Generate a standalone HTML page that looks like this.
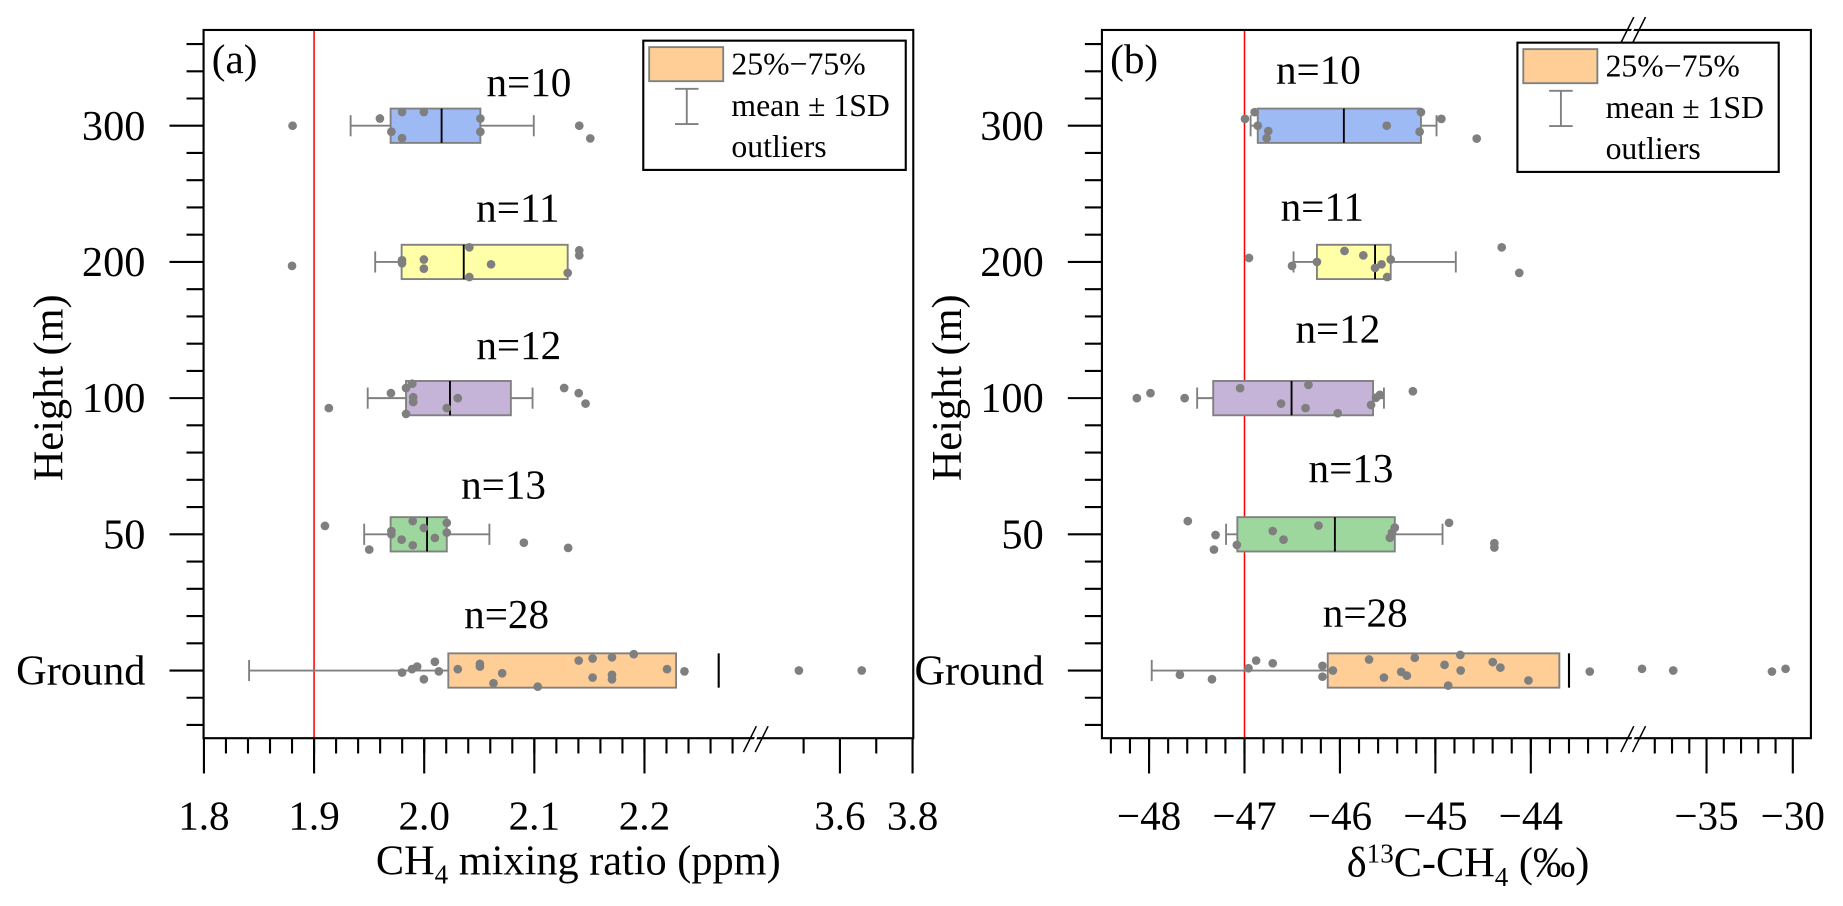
<!DOCTYPE html>
<html><head><meta charset="utf-8"><style>
html,body{margin:0;padding:0;background:#fff;}
svg{display:block;font-family:"Liberation Serif",serif;}
</style></head><body>
<svg id="chart" width="1843" height="906" viewBox="0 0 1568 771" preserveAspectRatio="none" xmlns="http://www.w3.org/2000/svg">
<rect width="1568" height="771" fill="#fff"/>
</svg>
<script>
// ---------- data ----------
const categories = ['300','200','100','50','Ground'];
const countLabels = ['n=10','n=11','n=12','n=13','n=28'];
const boxColors = ['#9dbaf5','#ffffa8','#c5b3d8','#9ed79e','#fece96'];

// panel a: CH4 mixing ratio (ppm)
const q1A = [1.9695,1.9795,1.9835,1.9695,2.0219];
const q3A = [2.051,2.1303,2.0787,2.0205,2.2287];
const medA = [2.0158,2.0359,2.0234,2.0026,null];
const wLoA = [1.9332,1.9555,1.9487,1.9455,1.841];
const wHiA = [2.0995,2.1163,2.0984,2.0592,null];
const markA = [null,null,null,null,2.2674];
const ptsA300 = [1.9598,1.9799,1.9997,1.9702,1.9799,2.051,2.051,1.8805,2.1408,2.1508];
const jitA300 = [-0.42,-0.8,-0.8,0.35,0.72,-0.42,0.35,0,0,0.74];
const ptsA200 = [1.88,1.9799,1.9799,1.9997,1.9997,2.041,2.041,2.0607,2.1408,2.1408,2.1303];
const jitA200 = [0.23,-0.1,0.08,-0.14,0.39,-0.85,0.88,0.14,-0.68,-0.38,0.64];
const ptsA100 = [1.9134,1.9698,1.9835,1.9892,1.99,1.99,1.9835,2.0305,2.0205,2.1271,2.1403,2.1465];
const jitA100 = [0.58,-0.29,-0.59,-0.84,-0.05,0.23,0.92,0,0.58,-0.59,-0.29,0.32];
const ptsA50 = [1.9099,1.9896,1.9702,1.9702,1.9795,1.9896,1.9997,2.0205,2.0205,2.0097,1.9501,2.0905,2.1307];
const jitA50 = [-0.49,-0.77,-0.19,0,0.31,0.64,-0.37,-0.67,-0.1,0.21,0.89,0.49,0.79];
const ptsAG = [1.9799,1.9889,1.9936,2.0097,2.0133,1.9997,2.0305,2.0506,2.0506,2.0708,2.0629,2.1031,2.1403,2.1529,2.1529,2.1705,2.1705,2.1705,2.1903,2.2205,2.2363,3.487,3.66];
const jitAG = [0.12,-0.08,-0.23,-0.51,0.05,0.51,-0.08,-0.39,-0.23,0.16,0.74,0.94,-0.58,-0.7,0.41,-0.77,0.25,0.51,-0.95,-0.08,0.05,0,0];
const ticksA = ['1.8','1.9','2.0','2.1','2.2','3.6','3.8'];
const refA = 1.9;

// panel b: delta13C-CH4 (permil)
const q1B = [-46.861,-46.241,-47.328,-47.075,-46.128];
const q3B = [-45.151,-45.468,-45.653,-45.425,-43.701];
const medB = [-45.959,-45.632,-46.507,-46.053,null];
const wLoB = [-46.936,-46.486,-47.496,-47.193,-47.972];
const wHiB = [-44.988,-44.786,-45.539,-44.925,null];
const markB = [null,null,null,null,-43.6];
const ptsB300 = [-46.995,-46.894,-46.861,-46.751,-46.768,-45.510,-45.151,-45.165,-44.937,-44.567];
const jitB300 = [-0.4,-0.79,0,0.31,0.72,0,-0.79,0.35,-0.4,0.75];
const ptsB200 = [-46.953,-46.502,-46.241,-45.952,-45.755,-45.632,-45.564,-45.468,-45.505,-44.305,-44.121];
const jitB200 = [-0.23,0.23,0,-0.64,-0.38,0.35,0.14,-0.14,0.88,-0.85,0.64];
const ptsB100 = [-48.128,-47.985,-47.627,-47.046,-46.617,-46.330,-46.360,-46.023,-45.674,-45.623,-45.581,-45.236];
const jitB100 = [0,-0.29,0,-0.58,0.32,-0.77,0.58,0.88,0.4,-0.02,-0.19,-0.4];
const ptsB50 = [-47.594,-47.303,-47.320,-47.080,-46.704,-46.591,-46.225,-45.425,-45.454,-45.477,-44.857,-44.382,-44.382];
const jitB50 = [-0.77,0.04,0.89,0.62,-0.19,0.31,-0.51,-0.39,-0.1,0.2,-0.67,0.52,0.77];
const ptsBG = [-47.677,-47.341,-46.958,-46.878,-46.704,-46.183,-46.183,-46.074,-45.695,-45.539,-45.358,-45.299,-45.216,-44.904,-44.739,-44.735,-44.866,-44.399,-44.319,-44.025,-43.382,-38.74,-36.93,-31.21,-30.42];
const jitBG = [0.25,0.51,-0.13,-0.58,-0.42,-0.27,0.36,0,-0.64,0.41,0.08,0.3,-0.74,-0.33,-0.91,0,0.88,-0.49,-0.17,0.58,0.06,-0.1,0,0.06,-0.1];
const ticksB = ['−48','−47','−46','−45','−44','−35','−30'];
const refB = -47;

// ---------- helpers ----------
const NS='http://www.w3.org/2000/svg';
const svg=document.getElementById('chart');
function mk(tag,attrs,parent){const e=document.createElementNS(NS,tag);for(const k in attrs)e.setAttribute(k,attrs[k]);(parent||svg).appendChild(e);return e;}
const TOP=25.5, BOT=628.2, HALF=14.6;
function yCat(i){return 107+i*115.9;}
function xA(v){return v<=2.3?173.5+(v-1.8)*937:714.6+(v-3.6)*309;}
function xB(v){return v<=-40?1058.8+(v+47)*81.2:1451.9+(v+35)*14.68;}
function num(s){return parseFloat(s.replace('−','-'));}

function panel(o){
  const g=mk('g',{});
  
  
  const X=o.x;
  const rl=mk('line',{x1:X(o.ref),x2:X(o.ref),y1:TOP,y2:BOT,stroke:'#ff0000','stroke-width':1.3},g);
  
  
  for(let i=0;i<5;i++){
    const bg=mk('g',{},g);
    
    
    const y=yCat(i);
    const hiEnd=o.wHi[i]!==null?o.wHi[i]:o.q1[i];
    const wl=mk('line',{x1:X(o.wLo[i]),x2:X(hiEnd),y1:y,y2:y,stroke:'#808080','stroke-width':1.6},bg);
    
    
    const c1=mk('line',{x1:X(o.wLo[i]),x2:X(o.wLo[i]),y1:y-9,y2:y+9,stroke:'#808080','stroke-width':1.6},bg);
    
    
    if(o.wHi[i]!==null){
      const c2=mk('line',{x1:X(o.wHi[i]),x2:X(o.wHi[i]),y1:y-9,y2:y+9,stroke:'#808080','stroke-width':1.6},bg);
      
      
    }
    const r=mk('rect',{x:X(o.q1[i]),y:y-HALF,width:X(o.q3[i])-X(o.q1[i]),height:HALF*2,fill:boxColors[i],stroke:'#808080','stroke-width':1.6},bg);
    
    
    if(o.med[i]!==null){
      const m=mk('line',{x1:X(o.med[i]),x2:X(o.med[i]),y1:y-HALF,y2:y+HALF,stroke:'#000','stroke-width':1.6},bg);
      
      
    }
    if(o.mark[i]!==null){
      const m=mk('line',{x1:X(o.mark[i]),x2:X(o.mark[i]),y1:y-HALF,y2:y+HALF,stroke:'#000','stroke-width':1.8},bg);
      
      
    }
    const pts=o.pts[i], jit=o.jit[i];
    for(let k=0;k<pts.length;k++){
      const c=mk('circle',{cx:X(pts[k]),cy:y+jit[k]*HALF,r:3.7,fill:'#7f7f7f'},bg);
      
      
    }
    const t=mk('text',{x:o.nx[i],y:o.ny[i],'font-size':35,'text-anchor':'middle',fill:'#000'},bg);
    t.textContent=countLabels[i];
    
    
  }
  const fr=mk('rect',{x:o.L,y:TOP,width:o.R-o.L,height:BOT-TOP,fill:'none',stroke:'#000','stroke-width':1.8},g);
  
  
  for(let j=-3;j<=22;j++){
    const y=107+j*23.18;
    if(y<TOP+3||y>BOT-3)continue;
    const major=(j%5===0);
    mk('line',{x1:o.L-(major?29:14.5),x2:o.L,y1:y,y2:y,stroke:'#000','stroke-width':1.8},g);
  }
  for(let i=0;i<5;i++){
    const t=mk('text',{x:o.L-49.5,y:yCat(i)+12,'font-size':36,'text-anchor':'end'},g);
    t.textContent=categories[i];
    
    
  }
  const yt=mk('text',{x:0,y:0,'font-size':36,'text-anchor':'middle',transform:'translate('+(o.L-120)+',330) rotate(-90)'},g);
  yt.textContent='Height (m)';
  
  
  o.minor.forEach(v=>{mk('line',{x1:X(v),x2:X(v),y1:BOT,y2:BOT+13,stroke:'#000','stroke-width':1.8},g);});
  o.tickLabels.forEach(s=>{
    const v=num(s);
    mk('line',{x1:X(v),x2:X(v),y1:BOT,y2:BOT+30,stroke:'#000','stroke-width':1.8},g);
    const t=mk('text',{x:X(v),y:706,'font-size':35,'text-anchor':'middle'},g);
    t.textContent=s;
    
    
  });
  o.breaks.forEach(b=>{
    mk('polygon',{points:(b.x-11)+','+(b.y+11)+' '+(b.x-1)+','+(b.y-11)+' '+(b.x+1)+','+(b.y-11)+' '+(b.x-9)+','+(b.y+11),fill:'#fff',stroke:'none'},g);
    const b1=mk('line',{x1:b.x-15,y1:b.y+11,x2:b.x-4,y2:b.y-11,stroke:'#000','stroke-width':1.3},g);
    
    
    mk('line',{x1:b.x-5,y1:b.y+11,x2:b.x+6,y2:b.y-11,stroke:'#000','stroke-width':1.3},g);
  });
  const pl=mk('text',{x:o.L+7,y:62,'font-size':35},g);
  pl.textContent=o.letter;
  
  
  const lg=mk('g',{},g);
  
  
  const lx=o.legX, ly=o.legY;
  mk('rect',{x:lx,y:ly,width:o.legW,height:110,fill:'#fff',stroke:'#000','stroke-width':1.8},lg);
  const sw=mk('rect',{x:lx+5,y:ly+5.5,width:63,height:29,fill:'#fece96',stroke:'#808080','stroke-width':1.6},lg);
  
  
  const ex=lx+37;
  mk('line',{x1:ex,x2:ex,y1:ly+41,y2:ly+71,stroke:'#808080','stroke-width':1.6},lg);
  mk('line',{x1:ex-10,x2:ex+10,y1:ly+41,y2:ly+41,stroke:'#808080','stroke-width':1.6},lg);
  mk('line',{x1:ex-10,x2:ex+10,y1:ly+71,y2:ly+71,stroke:'#808080','stroke-width':1.6},lg);
  ['25%−75%','mean ± 1SD','outliers'].forEach((s,k)=>{
    const t=mk('text',{x:lx+o.legTx,y:ly+29+k*35,'font-size':27},lg);
    t.textContent=s;
    
    
  });
}

function rng(a,b,s){const r=[];for(let v=a;v<=b+1e-9;v+=s)r.push(+v.toFixed(4));return r;}

panel({name:'panel-a',letter:'(a)',x:xA,L:173.2,R:777,ref:refA,
  q1:q1A,q3:q3A,med:medA,wLo:wLoA,wHi:wHiA,mark:markA,
  pts:[ptsA300,ptsA200,ptsA100,ptsA50,ptsAG],jit:[jitA300,jitA200,jitA100,jitA50,jitAG],
  nx:[450,440.6,441.4,428.4,431],ny:[81.7,188.6,305.7,424.2,534.6],
  minor:rng(1.82,2.28,0.02).concat([3.5,3.7]),tickLabels:ticksA,
  breaks:[{x:647.5,y:629}],legX:547.3,legY:34.6,legW:223.3,legTx:75});

panel({name:'panel-b',letter:'(b)',x:xB,L:937.5,R:1540.7,ref:refB,
  q1:q1B,q3:q3B,med:medB,wLo:wLoB,wHi:wHiB,mark:markB,
  pts:[ptsB300,ptsB200,ptsB100,ptsB50,ptsBG],jit:[jitB300,jitB200,jitB100,jitB50,jitBG],
  nx:[1121.7,1125,1138.3,1149.4,1161.5],ny:[70.9,187.7,291.5,410.1,533.2],
  minor:rng(-48.4,-43.2,0.2).concat([-38,-37,-36,-34,-33,-32,-31]),tickLabels:ticksB,
  breaks:[{x:1394,y:629},{x:1394,y:25.5}],legX:1291,legY:36.3,legW:222.3,legTx:75});

const ta=mk('text',{x:492,y:744,'font-size':36,'text-anchor':'middle'});


ta.innerHTML='CH<tspan font-size="23" dy="8">4</tspan><tspan dy="-8"> mixing ratio (ppm)</tspan>';
const tb=mk('text',{x:1249,y:746,'font-size':36,'text-anchor':'middle'});


tb.innerHTML='δ<tspan font-size="23" dy="-12">13</tspan><tspan dy="12">C-CH</tspan><tspan font-size="23" dy="8">4</tspan><tspan dy="-8"> (‰)</tspan>';
</script>
</body></html>
